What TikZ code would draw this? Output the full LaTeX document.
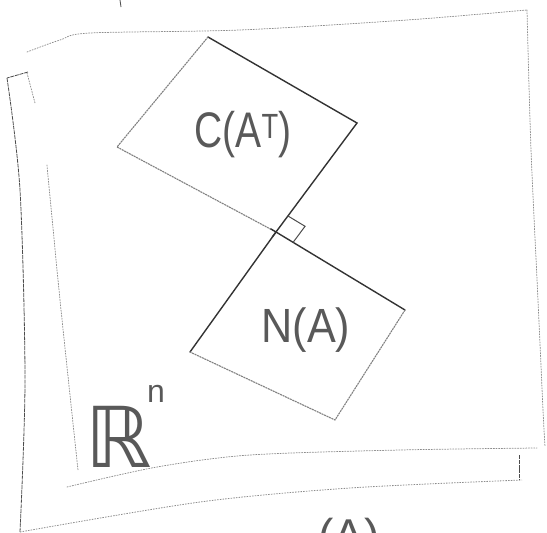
\documentclass[tikz,border=0pt]{standalone}
\usepackage{fontspec}
\usetikzlibrary{calc}
\setmainfont{Liberation Sans}
\newfontfamily\dejavu{DejaVu Sans}
\begin{document}
\begin{tikzpicture}[x=1pt,y=-1pt,
  sheetline/.style={line width=0.75pt, black!45, dash pattern=on 1.2pt off 1.5pt, line cap=round},
  backline/.style={line width=0.8pt, black!70, dash pattern=on 4pt off 0.8pt},
  darkedge/.style={line width=1.4pt, black!80, line cap=round},
  softedge/.style={line width=1.1pt, black!50, dash pattern=on 2pt off 0.7pt},
  hand/.style={text=black!65, inner sep=0pt}]
\useasboundingbox (0,0) rectangle (547,533);
\begin{scope}
\clip (0,0) rectangle (547,533);
% front sheet (light, dotted)
\draw[sheetline] plot[smooth] coordinates {(27,52) (60,40) (90,33) (240,30) (407,20) (527,10)};
\draw[sheetline] plot[smooth] coordinates {(527,10) (531,150) (538,300) (543,410) (545,447)};
\draw[sheetline] plot[smooth] coordinates {(67,487) (157,467) (250,455) (400,450) (537,448)};
\draw[sheetline] plot[smooth] coordinates {(47,165) (60,300) (78,470)};
\draw[sheetline] (27,73) -- (35,103);
% back sheet
\draw[backline] (28,72) -- (7,78);
\draw[backline] plot[smooth] coordinates {(7,78) (20,190) (25,380) (20,532)};
\draw[backline, black!45, dash pattern=on 1.5pt off 1.2pt] plot[smooth] coordinates {(20,532) (200,502) (350,488) (522,480)};
\draw[backline] (519,455) -- (519,480);
\draw[line width=0.8pt, black!70] (120,0) -- (121,7);
% corners
\coordinate (T1) at (208,37);
\coordinate (R1) at (357,123);
\coordinate (B)  at (276,232);
\coordinate (L1) at (117,147);
\coordinate (R2) at (405,310);
\coordinate (B2) at (335,420);
\coordinate (L2) at (190,352);
% C(A^T) rectangle
\draw[darkedge] (T1) -- (R1) -- (B);
\draw[softedge] (B) -- (L1) -- (T1);
% N(A) rectangle
\draw[darkedge] (L2) -- (B) -- (R2);
\draw[softedge] (R2) -- (B2) -- (L2);
% crossing overshoots
\coordinate (O1) at ($(B)!-6pt!(R2)$);
\coordinate (O2) at ($(B)!-6pt!(R1)$);
\draw[darkedge] (B) -- (O1);
\draw[darkedge] (B) -- (O2);
% right angle mark
\coordinate (P1) at ($(B)!20pt!(R1)$);
\coordinate (P2) at ($(B)!20pt!(R2)$);
\coordinate (P3) at ($(P1)+(P2)-(B)$);
\draw[line width=1pt, black!70] (P1) -- (P3) -- (P2);
% labels
\node[hand, font=\fontsize{50}{50}\selectfont, xscale=0.78] (ca) at (243,135) {C(A\textsuperscript{T})};
\node[hand, font=\fontsize{48}{48}\selectfont, xscale=0.9] (na) at (306,330) {N(A)};
\node[hand, font=\dejavu\fontsize{84}{84}\selectfont] (rn) at (119,437) {ℝ};
\node[hand, font=\fontsize{32}{32}\selectfont] (rnsup) at (156,394) {n};
\node[hand, font=\fontsize{46}{46}\selectfont, anchor=north] (pa) at (349,518) {(A)};
\end{scope}
\end{tikzpicture}
\end{document}
